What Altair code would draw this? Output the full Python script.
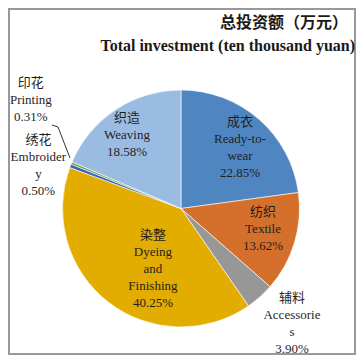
import altair as alt
import pandas as pd

# ---- data ----
categories_cn = ["成衣", "纺织", "辅料", "染整", "绣花", "印花", "织造"]
categories_en = ["Ready-to-\nwear", "Textile", "Accessorie\ns", "Dyeing\nand\nFinishing",
                 "Embroider\ny", "Printing", "Weaving"]
shares = [22.85, 13.62, 3.90, 40.25, 0.50, 0.31, 18.58]
share_labels = ["22.85%", "13.62%", "3.90%", "40.25%", "0.50%", "0.31%", "18.58%"]
title_cn = "总投资额（万元）"
title_en = "Total investment (ten thousand yuan)"

# ---- styles / layout (first line of each label, polar offset from pie centre) ----
colors = ["#4F86C1", "#D4702B", "#979797", "#E3AC00", "#3B64AD", "#5E9E3E", "#9BBCE2"]
label_radius = [104.7, 82.1, 142.6, 38.6, 158, 195.6, 105.4]
label_shift_deg = [-6.8, -14.4, -9.4, 8.9, 4.4, 17.3, 2.6]
CX, CY, R = 173, 200.5, 118.5
W, H = 348, 347

df = pd.DataFrame({
    "idx": list(range(len(shares))),
    "key": categories_cn,
    "share": shares,
    "label": [f"{c}\n{e}\n{p}" for c, e, p in zip(categories_cn, categories_en, share_labels)],
    "r": label_radius,
    "shift": label_shift_deg,
})

pie = alt.Chart(df).mark_arc(radius=R, stroke="white", strokeWidth=0.6).encode(
    theta=alt.Theta("share:Q", stack=True),
    order=alt.Order("idx:Q"),
    color=alt.Color("key:N", scale=alt.Scale(domain=categories_cn, range=colors), legend=None),
    x=alt.value(CX), y=alt.value(CY),
)

labels = alt.Chart(df).transform_joinaggregate(
    total="sum(share)"
).transform_window(
    cum="sum(share)", sort=[alt.SortField("idx")], frame=[None, 0]
).transform_calculate(
    th="2*PI*(datum.cum - datum.share/2)/datum.total + datum.shift*PI/180"
).mark_text(
    font="Liberation Serif, Noto Sans CJK SC", fontSize=13, lineHeight=17,
    lineBreak="\n", align="center", baseline="middle", color="#1f1f1f",
).encode(
    theta=alt.Theta("th:Q", scale=None, stack=False),
    radius=alt.Radius("r:Q", scale=None),
    text="label:N",
    x=alt.value(CX), y=alt.value(CY),
)

one = pd.DataFrame({"a": [0]})
leader1 = alt.Chart(one).mark_rule(color="black", strokeWidth=0.8).encode(
    x=alt.value(44), y=alt.value(117), x2=alt.value(50), y2=alt.value(119))
leader2 = alt.Chart(one).mark_rule(color="black", strokeWidth=0.8).encode(
    x=alt.value(50), y=alt.value(119), x2=alt.value(62), y2=alt.value(150))

t_cn = alt.Chart(one).mark_text(
    text=title_cn, font="Noto Sans CJK SC", fontSize=16, fontWeight="bold",
    align="right", baseline="middle", color="#1a1a1a",
).encode(x=alt.value(340), y=alt.value(15))
t_en = alt.Chart(one).mark_text(
    text=title_en, font="Liberation Serif", fontSize=16, fontWeight="bold",
    align="right", baseline="middle", color="#1a1a1a",
).encode(x=alt.value(347), y=alt.value(38))

border = alt.Chart(one).mark_rect(fill=None, stroke="#999999", strokeWidth=2).encode(
    x=alt.value(1), y=alt.value(1), x2=alt.value(W - 1), y2=alt.value(H - 1))

chart = alt.layer(border, pie, labels, leader1, leader2, t_cn, t_en).properties(
    width=W, height=H, autosize=alt.AutoSizeParams(type="none"), padding=0,
).configure_view(stroke=None)

chart.save("out.html", embed_options={"renderer": "svg", "actions": False})
